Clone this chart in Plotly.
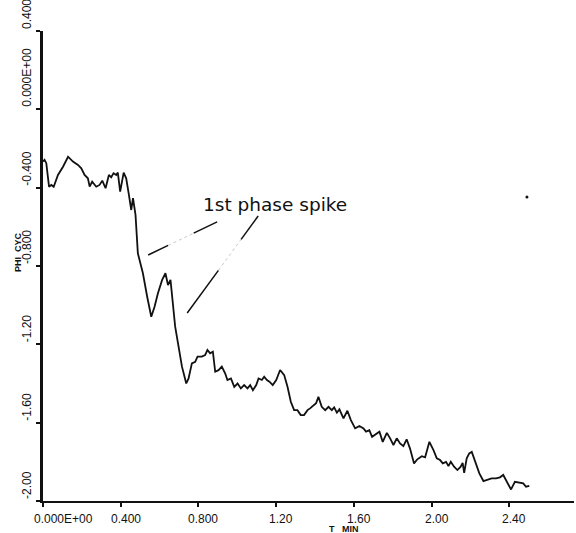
import plotly.graph_objects as go

# Phase record: time (min) and phase (cycles)
t_min = [0.000, 0.008, 0.017, 0.031, 0.043, 0.055, 0.077, 0.103, 0.129, 0.154,
         0.180, 0.197, 0.214, 0.231, 0.240, 0.253, 0.274, 0.291, 0.305, 0.322,
         0.339, 0.351, 0.363, 0.377, 0.385, 0.397, 0.415, 0.428, 0.442, 0.454,
         0.463, 0.476, 0.488, 0.514, 0.536, 0.557, 0.574, 0.591, 0.613, 0.630,
         0.643, 0.656, 0.680, 0.697, 0.715, 0.737, 0.749, 0.766, 0.783, 0.795,
         0.817, 0.834, 0.846, 0.860, 0.874, 0.886, 0.903, 0.920, 0.937, 0.949,
         0.967, 0.984, 1.001, 1.018, 1.035, 1.052, 1.066, 1.080, 1.097, 1.109,
         1.126, 1.138, 1.152, 1.165, 1.182, 1.200, 1.220, 1.241, 1.258, 1.275,
         1.292, 1.309, 1.326, 1.343, 1.361, 1.374, 1.391, 1.405, 1.417, 1.434,
         1.452, 1.469, 1.486, 1.498, 1.512, 1.525, 1.546, 1.566, 1.584, 1.606,
         1.628, 1.649, 1.662, 1.679, 1.693, 1.714, 1.731, 1.748, 1.769, 1.786,
         1.803, 1.820, 1.837, 1.854, 1.871, 1.888, 1.909, 1.926, 1.949, 1.966,
         1.988, 2.009, 2.026, 2.043, 2.057, 2.074, 2.086, 2.098, 2.115, 2.132,
         2.149, 2.159, 2.167, 2.180, 2.193, 2.206, 2.223, 2.245, 2.266, 2.286,
         2.308, 2.331, 2.351, 2.368, 2.389, 2.408, 2.428, 2.451, 2.471, 2.485,
         2.502]
phi_cyc = [-0.267, -0.258, -0.275, -0.395, -0.386, -0.395, -0.335, -0.293, -0.242, -0.267,
           -0.284, -0.301, -0.335, -0.352, -0.395, -0.369, -0.395, -0.386, -0.364, -0.403,
           -0.335, -0.347, -0.326, -0.335, -0.323, -0.420, -0.323, -0.352, -0.437, -0.514,
           -0.454, -0.539, -0.735, -0.837, -0.957, -1.059, -1.008, -0.940, -0.871, -0.837,
           -0.897, -0.871, -1.110, -1.212, -1.314, -1.400, -1.374, -1.297, -1.289, -1.263,
           -1.263, -1.255, -1.229, -1.246, -1.238, -1.340, -1.332, -1.314, -1.348, -1.382,
           -1.374, -1.417, -1.400, -1.425, -1.408, -1.425, -1.408, -1.434, -1.408, -1.374,
           -1.382, -1.365, -1.382, -1.391, -1.408, -1.382, -1.331, -1.357, -1.417, -1.493,
           -1.536, -1.536, -1.561, -1.561, -1.536, -1.527, -1.510, -1.501, -1.468, -1.519,
           -1.536, -1.519, -1.536, -1.522, -1.549, -1.532, -1.578, -1.539, -1.587, -1.629,
           -1.617, -1.629, -1.646, -1.638, -1.672, -1.655, -1.646, -1.698, -1.652, -1.680,
           -1.714, -1.680, -1.706, -1.720, -1.685, -1.731, -1.808, -1.787, -1.771, -1.777,
           -1.698, -1.740, -1.782, -1.791, -1.808, -1.800, -1.822, -1.800, -1.825, -1.842,
           -1.825, -1.805, -1.856, -1.782, -1.757, -1.749, -1.800, -1.859, -1.898, -1.893,
           -1.884, -1.884, -1.879, -1.867, -1.906, -1.941, -1.902, -1.906, -1.910, -1.927,
           -1.923]

# Isolated stray point on the record
stray_t = [2.49]
stray_phi = [-0.448]

x_ticks = [0.0, 0.4, 0.8, 1.2, 1.6, 2.0, 2.4]
x_tick_text = ["0.000E+00", "0.400", "0.800", "1.20", "1.60", "2.00", "2.40"]
y_ticks = [0.4, 0.0, -0.4, -0.8, -1.2, -1.6, -2.0]
y_tick_text = ["0.400", "0.000E+00", "-0.400", "-0.800", "-1.20", "-1.60", "-2.00"]

FONT = "Liberation Sans, Arial, Helvetica, sans-serif"
CALLOUT_FONT = "DejaVu Sans, Verdana, sans-serif"
INK = "#111111"

fig = go.Figure()
fig.add_trace(go.Scatter(x=t_min, y=phi_cyc, mode="lines",
                         line=dict(color=INK, width=1.8), showlegend=False,
                         hoverinfo="skip"))
fig.add_trace(go.Scatter(x=stray_t, y=stray_phi, mode="markers",
                         marker=dict(color=INK, size=3), showlegend=False,
                         hoverinfo="skip"))

annotations = []
# x tick labels (left part of each label sits slightly left of its tick)
for v, s in zip(x_ticks, x_tick_text):
    if v == 0.0:
        annotations.append(dict(x=v, y=0, xref="x", yref="paper", text=s,
                                showarrow=False, xanchor="left", yanchor="top",
                                xshift=-11, yshift=-9,
                                font=dict(family=FONT, size=12, color=INK)))
    else:
        annotations.append(dict(x=v, y=0, xref="x", yref="paper", text=s,
                                showarrow=False, xanchor="center", yanchor="top",
                                xshift=5, yshift=-9,
                                font=dict(family=FONT, size=12, color=INK)))
# y tick labels, rotated, each reading upward from its tick
for v, s in zip(y_ticks, y_tick_text):
    annotations.append(dict(x=0, y=v, xref="paper", yref="y", text=s,
                            showarrow=False, textangle=-90,
                            xanchor="right", yanchor="bottom", xshift=-7,
                            font=dict(family=FONT, size=12, color=INK)))
# axis titles
annotations.append(dict(x=0.566, y=0, xref="paper", yref="paper",
                        text="T\u00a0\u00a0\u00a0MIN", showarrow=False,
                        xanchor="center", yanchor="middle", yshift=-28,
                        font=dict(family=FONT, size=9, color=INK, weight="bold")))
annotations.append(dict(x=0, y=-0.728, xref="paper", yref="y",
                        text="PHI\u00a0\u00a0CYC", showarrow=False, textangle=-90,
                        xanchor="center", yanchor="middle", xshift=-25,
                        font=dict(family=FONT, size=9, color=INK, weight="bold")))
# callout
annotations.append(dict(x=1.194, y=-0.488, xref="x", yref="y",
                        text="1st phase spike", showarrow=False,
                        xanchor="center", yanchor="middle",
                        font=dict(family=CALLOUT_FONT, size=18.5, color=INK)))

# leader lines from the callout to the spike (faint in the middle)
shapes = []
def leader(x0, y0, x1, y1, f0, f1):
    xa, ya = x0 + (x1 - x0) * f0, y0 + (y1 - y0) * f0
    xb, yb = x0 + (x1 - x0) * f1, y0 + (y1 - y0) * f1
    shapes.append(dict(type="line", xref="x", yref="y", x0=x0, y0=y0, x1=xa, y1=ya,
                       line=dict(color=INK, width=1.5)))
    shapes.append(dict(type="line", xref="x", yref="y", x0=xa, y0=ya, x1=xb, y1=yb,
                       line=dict(color="#c8c8c8", width=1, dash="dot")))
    shapes.append(dict(type="line", xref="x", yref="y", x0=xb, y0=yb, x1=x1, y1=y1,
                       line=dict(color=INK, width=1.5)))

leader(0.541, -0.744, 0.896, -0.575, 0.29, 0.66)
leader(0.742, -1.040, 1.107, -0.545, 0.44, 0.76)

fig.update_layout(
    width=576, height=533,
    margin=dict(l=43, r=2, t=31, b=32),
    paper_bgcolor="white", plot_bgcolor="white",
    font=dict(family=FONT, color=INK),
    annotations=annotations, shapes=shapes,
    xaxis=dict(range=[0, 2.732], showgrid=False, zeroline=False,
               showline=True, linecolor=INK, linewidth=2,
               tickvals=x_ticks, showticklabels=False,
               ticks="outside", ticklen=4, tickwidth=1.5, tickcolor=INK),
    yaxis=dict(range=[-2.0, 0.4], showgrid=False, zeroline=False,
               showline=True, linecolor=INK, linewidth=2.5,
               tickvals=y_ticks, showticklabels=False,
               ticks="outside", ticklen=4, tickwidth=1.5, tickcolor=INK),
)

fig.write_html("out.html")
